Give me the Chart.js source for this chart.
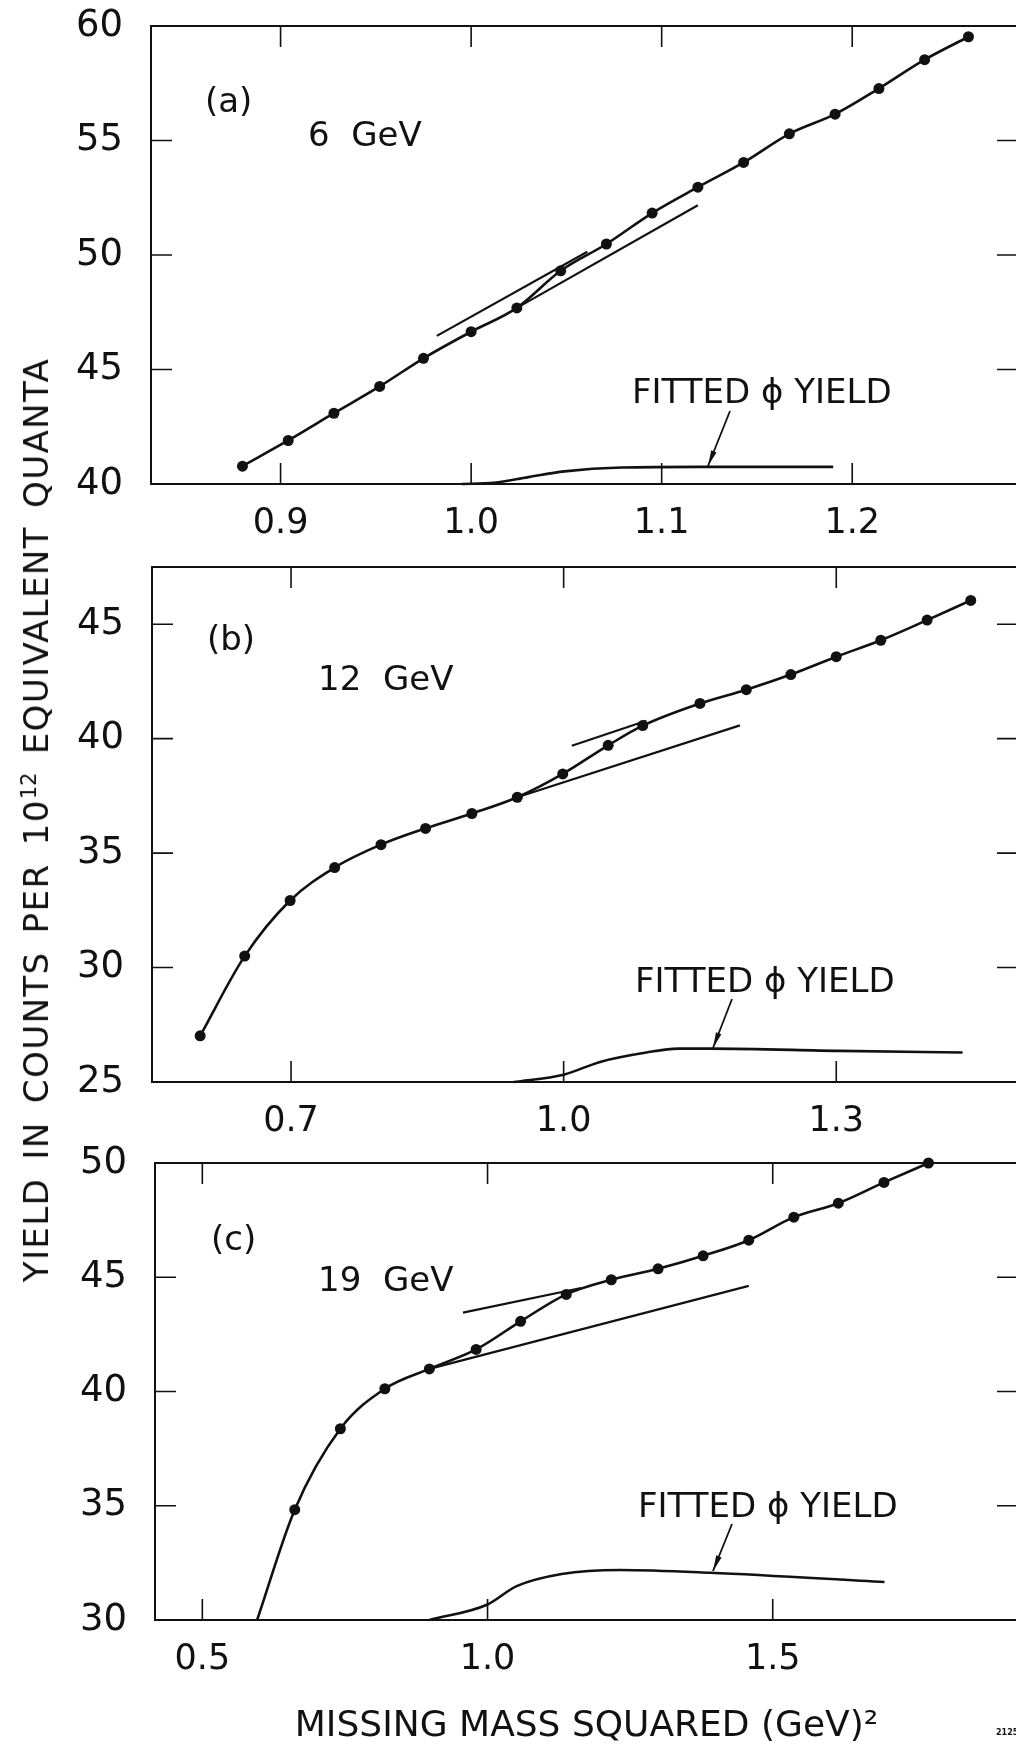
<!DOCTYPE html>
<html>
<head>
<meta charset="utf-8">
<script src="https://cdn.jsdelivr.net/npm/chart.js@4.4.1/dist/chart.umd.min.js"></script>
<style>
    html, body { margin: 0; padding: 0; background: #fff; overflow: hidden; }
    body { width: 1016px; height: 1748px; position: relative; font-family: 'DejaVu Sans', sans-serif; color: #111; }
    canvas { position: absolute; left: 0; }
    #yTitle {
        position: absolute; left: 36px; top: 820px;
        transform: translate(-50%, -50%) rotate(-90deg);
        white-space: nowrap; font-size: 34px; letter-spacing: 1.4px; word-spacing: 6px;
    }
    #yTitle sup { font-size: 21px; letter-spacing: 0; }
    #figNo { position: absolute; left: 996px; top: 1728px; font-size: 8px; font-weight: bold; }
</style>
</head>
<body>
<canvas id="panelA" width="1030" height="560" style="top:0px"></canvas>
<canvas id="panelB" width="1030" height="600" style="top:540px"></canvas>
<canvas id="panelC" width="1030" height="608" style="top:1140px"></canvas>
<div id="yTitle">YIELD IN COUNTS PER 10<sup>12</sup> EQUIVALENT QUANTA</div>
<div id="figNo">2125</div>
<script>
// (a) 6 GeV - measured points
const xA = [0.880, 0.904, 0.928, 0.952, 0.975, 1.000, 1.024, 1.047, 1.071, 1.095, 1.119, 1.143, 1.167, 1.191, 1.214, 1.238, 1.261];
const yA = [40.78, 41.90, 43.09, 44.26, 45.49, 46.65, 47.69, 49.31, 50.48, 51.83, 52.96, 54.04, 55.29, 56.15, 57.27, 58.53, 59.53];
const upperTanAx = [0.982, 1.061];
const upperTanAy = [46.47, 50.14];
const lowerTanAx = [1.024, 1.119];
const lowerTanAy = [47.69, 52.17];
const fitAx = [0.995, 1.012, 1.030, 1.049, 1.079, 1.120, 1.190];
const fitAy = [40.00, 40.05, 40.30, 40.55, 40.72, 40.75, 40.75];
const xTicksA = [0.9, 1.0, 1.1, 1.2];
const yTicksA = [40, 45, 50, 55, 60];

// (b) 12 GeV
const xB = [0.600, 0.649, 0.699, 0.748, 0.799, 0.848, 0.899, 0.949, 0.999, 1.049, 1.087, 1.150, 1.201, 1.250, 1.300, 1.349, 1.400, 1.448];
const yB = [27.02, 30.50, 32.93, 34.37, 35.37, 36.08, 36.73, 37.44, 38.46, 39.71, 40.57, 41.54, 42.14, 42.80, 43.58, 44.30, 45.18, 46.04];
const upperTanBx = [1.009, 1.091];
const upperTanBy = [39.69, 40.78];
const lowerTanBx = [0.949, 1.194];
const lowerTanBy = [37.44, 40.58];
const fitBx = [0.945, 1.000, 1.041, 1.091, 1.126, 1.162, 1.304, 1.439];
const fitBy = [25.00, 25.32, 25.89, 26.29, 26.46, 26.46, 26.36, 26.29];
const xTicksB = [0.7, 1.0, 1.3];
const yTicksB = [25, 30, 35, 40, 45];

// (c) 19 GeV - curve comes up from the axis at 0.596
const curveStartC = [0.596, 30.0];
const xC = [0.662, 0.742, 0.820, 0.898, 0.980, 1.058, 1.138, 1.217, 1.299, 1.378, 1.458, 1.537, 1.615, 1.695, 1.773];
const yC = [34.83, 38.37, 40.12, 40.99, 41.84, 43.07, 44.25, 44.89, 45.37, 45.94, 46.62, 47.63, 48.24, 49.15, 50.00];
const upperTanCx = [0.957, 1.164];
const upperTanCy = [43.45, 44.53];
const lowerTanCx = [0.898, 1.458];
const lowerTanCy = [40.99, 44.62];
const fitCx = [0.898, 1.000, 1.051, 1.130, 1.232, 1.390, 1.696];
const fitCy = [30.00, 30.68, 31.48, 32.01, 32.19, 32.07, 31.66];
const xTicksC = [0.5, 1.0, 1.5];
const yTicksC = [30, 35, 40, 45, 50];

const FONT = "'DejaVu Sans', 'Liberation Sans', sans-serif";
const INK = '#111';

function toPoints(xs, ys) {
    return xs.map((x, i) => ({ x: x, y: ys[i] }));
}

// Frame with inward ticks on all four sides, plus the hand lettering and arrow
const framePlugin = {
    id: 'frameTicks',
    afterDatasetsDraw(chart, args, opts) {
        const { ctx, chartArea: a } = chart;
        const x = chart.scales.x;
        const y = chart.scales.y;
        const len = 21;
        ctx.save();
        ctx.strokeStyle = INK;
        ctx.lineWidth = 2;
        ctx.strokeRect(a.left, a.top, a.right - a.left, a.bottom - a.top);

        ctx.lineWidth = 1.6;
        ctx.beginPath();
        x.ticks.forEach(t => {
            const px = x.getPixelForValue(t.value);
            ctx.moveTo(px, a.bottom); ctx.lineTo(px, a.bottom - len);
            ctx.moveTo(px, a.top); ctx.lineTo(px, a.top + len);
        });
        y.ticks.forEach(t => {
            if (t.value <= y.min || t.value >= y.max) return;
            const py = y.getPixelForValue(t.value);
            ctx.moveTo(a.left, py); ctx.lineTo(a.left + len, py);
            ctx.moveTo(a.right, py); ctx.lineTo(a.right - len, py);
        });
        ctx.stroke();

        ctx.fillStyle = INK;
        ctx.font = '34px ' + FONT;
        ctx.textBaseline = 'alphabetic';
        ctx.textAlign = 'left';
        (opts.notes || []).forEach(n => ctx.fillText(n.text, n.x, n.y));

        // arrow from label to the fitted curve
        const ar = opts.arrow;
        if (ar) {
            ctx.lineWidth = 1.8;
            ctx.beginPath();
            ctx.moveTo(ar.x1, ar.y1);
            ctx.lineTo(ar.x2, ar.y2);
            ctx.stroke();
            const ang = Math.atan2(ar.y2 - ar.y1, ar.x2 - ar.x1);
            const hl = 16, hw = 0.18;
            ctx.beginPath();
            ctx.moveTo(ar.x2, ar.y2);
            ctx.lineTo(ar.x2 - hl * Math.cos(ang - hw), ar.y2 - hl * Math.sin(ang - hw));
            ctx.lineTo(ar.x2 - hl * Math.cos(ang + hw), ar.y2 - hl * Math.sin(ang + hw));
            ctx.closePath();
            ctx.fill();
        }
        ctx.restore();
    }
};

function makePanel(id, p) {
    const curve = (p.lead ? [{ x: p.lead[0], y: p.lead[1] }] : []).concat(toPoints(p.xs, p.ys));
    const lineStyle = { borderColor: INK, pointRadius: 0, fill: false, clip: false };

    const datasets = [
        Object.assign({ data: curve, borderWidth: 2.6, cubicInterpolationMode: 'monotone' }, lineStyle),
        Object.assign({ data: toPoints(p.upperX, p.upperY), borderWidth: 2.2, tension: 0 }, lineStyle),
        Object.assign({ data: toPoints(p.lowerX, p.lowerY), borderWidth: 2.2, tension: 0 }, lineStyle),
        Object.assign({ data: toPoints(p.fitX, p.fitY), borderWidth: 2.6, cubicInterpolationMode: 'monotone' }, lineStyle),
        {
            data: toPoints(p.xs, p.ys),
            showLine: false,
            pointRadius: 5.5,
            pointBackgroundColor: INK,
            pointBorderColor: INK,
            pointBorderWidth: 0,
            clip: false
        }
    ];

    new Chart(document.getElementById(id), {
        type: 'line',
        data: { datasets: datasets },
        options: {
            responsive: false,
            animation: false,
            devicePixelRatio: 1,
            events: [],
            layout: { padding: { left: 0, top: p.padTop, right: 12, bottom: 0 } },
            plugins: {
                legend: { display: false },
                tooltip: { enabled: false },
                frameTicks: { notes: p.notes, arrow: p.arrow }
            },
            scales: {
                x: {
                    type: 'linear',
                    min: p.xMin, max: p.xMax,
                    grid: { display: false, drawTicks: false },
                    border: { display: false },
                    afterBuildTicks: s => { s.ticks = p.xTicks.map(v => ({ value: v })); },
                    afterFit: s => {
                        s.height = p.xHeight;
                        s.paddingLeft = 0; s.paddingRight = 0;
                    },
                    ticks: {
                        autoSkip: false, maxRotation: 0, padding: 19, color: INK,
                        font: { family: FONT, size: 35 },
                        callback: v => v.toFixed(1)
                    },
                    title: p.xTitle ? {
                        display: true, text: p.xTitle, color: INK, padding: 0,
                        font: { family: FONT, size: 36, lineHeight: 1.2 }
                    } : { display: false }
                },
                y: {
                    min: p.yMin, max: p.yMax,
                    grid: { display: false, drawTicks: false },
                    border: { display: false },
                    afterBuildTicks: s => { s.ticks = p.yTicks.map(v => ({ value: v })); },
                    afterFit: s => {
                        s.width = p.left;
                        s.paddingTop = 0; s.paddingBottom = 0;
                    },
                    ticks: {
                        padding: 28, color: INK,
                        font: { family: FONT, size: 37 },
                        callback: v => String(v)
                    }
                }
            }
        },
        plugins: [framePlugin]
    });
}

makePanel('panelA', {
    xs: xA, ys: yA,
    upperX: upperTanAx, upperY: upperTanAy, lowerX: lowerTanAx, lowerY: lowerTanAy,
    fitX: fitAx, fitY: fitAy,
    xTicks: xTicksA, yTicks: yTicksA,
    xMin: 0.832, xMax: 1.287, yMin: 40, yMax: 60,
    left: 151, padTop: 26, xHeight: 76,
    notes: [
        { text: '(a)', x: 205, y: 112 },
        { text: '6  GeV', x: 308, y: 146 },
        { text: 'FITTED \u03d5 YIELD', x: 632, y: 403 }
    ],
    arrow: { x1: 730, y1: 411, x2: 708, y2: 466 }
});

makePanel('panelB', {
    xs: xB, ys: yB,
    upperX: upperTanBx, upperY: upperTanBy, lowerX: lowerTanBx, lowerY: lowerTanBy,
    fitX: fitBx, fitY: fitBy,
    xTicks: xTicksB, yTicks: yTicksB,
    xMin: 0.547, xMax: 1.5, yMin: 25, yMax: 47.5,
    left: 152, padTop: 27, xHeight: 58,
    notes: [
        { text: '(b)', x: 207, y: 110 },
        { text: '12  GeV', x: 318, y: 150 },
        { text: 'FITTED \u03d5 YIELD', x: 635, y: 452 }
    ],
    arrow: { x1: 732, y1: 459, x2: 713, y2: 508 }
});

makePanel('panelC', {
    xs: xC, ys: yC, lead: curveStartC,
    upperX: upperTanCx, upperY: upperTanCy, lowerX: lowerTanCx, lowerY: lowerTanCy,
    fitX: fitCx, fitY: fitCy,
    xTicks: xTicksC, yTicks: yTicksC,
    xMin: 0.417, xMax: 1.93, yMin: 30, yMax: 50,
    left: 155, padTop: 23, xHeight: 128,
    xTitle: 'MISSING MASS SQUARED (GeV)\u00b2',
    notes: [
        { text: '(c)', x: 211, y: 110 },
        { text: '19  GeV', x: 318, y: 151 },
        { text: 'FITTED \u03d5 YIELD', x: 638, y: 377 }
    ],
    arrow: { x1: 732, y1: 384, x2: 713, y2: 431 }
});
</script>
</body>
</html>
